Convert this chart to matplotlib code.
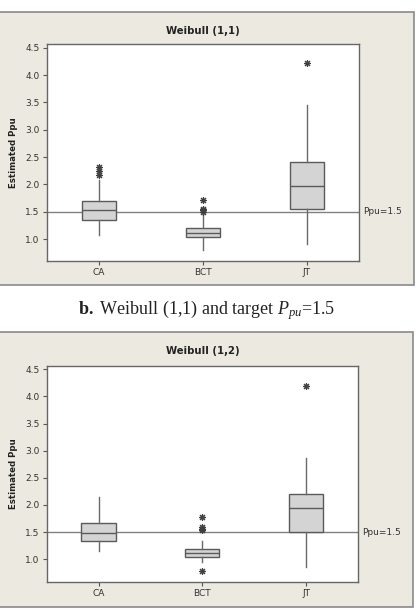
import matplotlib
matplotlib.use("Agg")
import matplotlib.pyplot as plt
from matplotlib.patches import Rectangle

plt.rcParams['mathtext.fontset'] = 'custom'
plt.rcParams['mathtext.rm'] = 'Liberation Serif'
plt.rcParams['mathtext.it'] = 'Liberation Serif:italic'
plt.rcParams['mathtext.bf'] = 'Liberation Serif:bold'

categories = ['CA', 'BCT', 'JT']
target = 1.5

# Weibull (1,1)
w11_q1 = [1.35, 1.04, 1.55]
w11_med = [1.53, 1.12, 1.97]
w11_q3 = [1.69, 1.20, 2.41]
w11_lo = [1.07, 0.81, 0.91]
w11_hi = [2.08, 1.45, 3.45]
w11_out = [[2.18, 2.25, 2.32], [1.50, 1.53, 1.56, 1.72], [4.23]]

# Weibull (1,2)
w12_q1 = [1.34, 1.04, 1.51]
w12_med = [1.48, 1.11, 1.94]
w12_q3 = [1.67, 1.18, 2.20]
w12_lo = [1.15, 0.94, 0.85]
w12_hi = [2.14, 1.33, 2.86]
w12_out = [[], [0.79, 1.53, 1.56, 1.59, 1.77], [4.20]]

W, H = 418, 614
fig = plt.figure(figsize=(W / 100, H / 100), dpi=100)
fig.patch.set_facecolor('white')


def px_box(x0, y0, x1, y1):
    return [x0 / W, 1 - y1 / H, (x1 - x0) / W, (y1 - y0) / H]


def panel(frame, axbox, title, q1, med, q3, lo, hi, out, ylim):
    fx0, fy0, fx1, fy1 = frame
    fig.patches.append(Rectangle((fx0 / W, 1 - fy1 / H), (fx1 - fx0) / W, (fy1 - fy0) / H,
                                 transform=fig.transFigure, facecolor='#ECE9E1',
                                 edgecolor='#8A8A8A', linewidth=1.2, zorder=-5))
    ax = fig.add_axes(px_box(*axbox))
    stats = []
    for i, name in enumerate(categories):
        stats.append(dict(label=name, q1=q1[i], med=med[i], q3=q3[i],
                          whislo=lo[i], whishi=hi[i], fliers=out[i]))
    ax.axhline(target, color='#808080', lw=1.0, zorder=1)
    ax.bxp(stats, positions=[1, 2, 3], widths=0.33, patch_artist=True, showcaps=False,
           boxprops=dict(facecolor='#D4D4D4', edgecolor='#5A5A5A', linewidth=1.0),
           medianprops=dict(color='#5A5A5A', linewidth=1.0),
           whiskerprops=dict(color='#6A6A6A', linewidth=1.0),
           flierprops=dict(marker=(8, 2, 0), markersize=5, markeredgecolor='#404040',
                           markerfacecolor='none', markeredgewidth=0.8, linestyle='none'),
           zorder=2)
    ax.set_xlim(0.5, 3.5)
    ax.set_ylim(*ylim)
    ax.set_yticks([1.0, 1.5, 2.0, 2.5, 3.0, 3.5, 4.0, 4.5])
    ax.set_yticklabels(['1.0', '1.5', '2.0', '2.5', '3.0', '3.5', '4.0', '4.5'])
    ax.set_xticks([1, 2, 3])
    ax.set_xticklabels(categories)
    ax.tick_params(labelsize=6.5, length=3, width=0.8, color='#555555', labelcolor='#333333', pad=2)
    for s in ax.spines.values():
        s.set_color('#666666')
        s.set_linewidth(1.0)
    ax.set_ylabel('Estimated Ppu', fontsize=6.2, fontweight='bold', color='#222222', labelpad=5)
    ax.text(1.012, target, 'Ppu=1.5', transform=ax.get_yaxis_transform(), fontsize=6.5,
            color='#333333', va='center', ha='left')
    cx = (axbox[0] + axbox[2]) / 2
    fig.text(cx / W, 1 - (fy0 + 19) / H, title, fontsize=7.3, fontweight='bold',
             color='#222222', ha='center', va='center')
    return ax


panel((-3, 12, 414, 285), (46.7, 44, 359, 261), 'Weibull (1,1)',
      w11_q1, w11_med, w11_q3, w11_lo, w11_hi, w11_out, (0.6, 4.57))
panel((-3, 332, 413, 607), (46.7, 366, 358, 582), 'Weibull (1,2)',
      w12_q1, w12_med, w12_q3, w12_lo, w12_hi, w12_out, (0.58, 4.56))

fig.text(207 / W, 1 - 310 / H, r'$\mathbf{b.}$ Weibull (1,1) and target $P_{pu}$=1.5',
         fontsize=13, family='Liberation Serif', color='#222222', ha='center', va='center')

fig.savefig('out.png', dpi=100, facecolor='white')
